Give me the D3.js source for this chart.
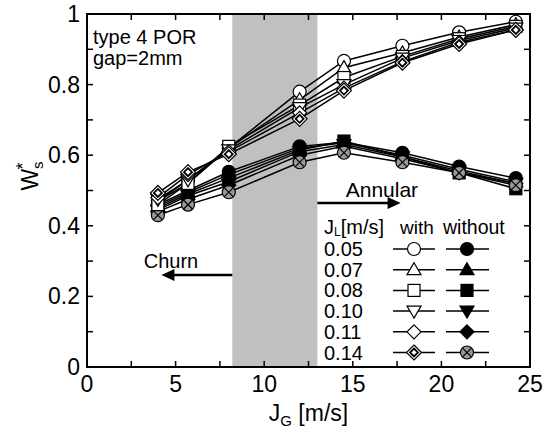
<!DOCTYPE html>
<html>
<head>
<meta charset="utf-8">
<script src="https://cdn.jsdelivr.net/npm/d3@7"></script>
<style>
  body { margin: 0; background: #fff; }
  svg text { font-family: "Liberation Sans", Arial, sans-serif; fill: #000; }
</style>
</head>
<body>
<svg id="chart" width="554" height="432"></svg>
<script>
// gas superficial velocity points [m/s]
var jg = [4, 5.7, 8, 12, 14.5, 17.8, 21, 24.2];
var jl = ["0.05", "0.07", "0.08", "0.10", "0.11", "0.14"];
var shapesWith = ["circle", "triangle", "square", "triangleDown", "diamond", "dotDiamond"];
var shapesWithout = ["circle", "triangle", "square", "triangleDown", "diamond", "crossCircle"];

var wsWith = [
  [0.470, 0.530, 0.620, 0.780, 0.867, 0.910, 0.948, 0.978],
  [0.470, 0.520, 0.620, 0.757, 0.848, 0.890, 0.935, 0.970],
  [0.460, 0.520, 0.625, 0.742, 0.820, 0.880, 0.930, 0.965],
  [0.475, 0.530, 0.615, 0.735, 0.800, 0.875, 0.925, 0.960],
  [0.480, 0.545, 0.610, 0.720, 0.790, 0.865, 0.920, 0.955],
  [0.493, 0.552, 0.603, 0.703, 0.783, 0.862, 0.915, 0.955]
];
var wsWithout = [
  [0.460, 0.500, 0.553, 0.625, 0.637, 0.607, 0.568, 0.535],
  [0.455, 0.495, 0.545, 0.620, 0.635, 0.600, 0.560, 0.525],
  [0.450, 0.490, 0.535, 0.615, 0.640, 0.595, 0.550, 0.505],
  [0.445, 0.485, 0.525, 0.610, 0.630, 0.595, 0.555, 0.520],
  [0.440, 0.475, 0.515, 0.600, 0.625, 0.590, 0.550, 0.520],
  [0.430, 0.460, 0.495, 0.580, 0.607, 0.580, 0.550, 0.515]
];
// churn-annular transition band
var band = [8.2, 13];
var xTicks = [0, 5, 10, 15, 20, 25];
var yTicks = [0, 0.2, 0.4, 0.6, 0.8, 1];

var margin = { left: 87, top: 14, right: 24, bottom: 65 };
var width = 554 - margin.left - margin.right;
var height = 432 - margin.top - margin.bottom;

var svg = d3.select("#chart");
var g = svg.append("g").attr("transform", "translate(" + margin.left + "," + margin.top + ")");

var x = d3.scaleLinear().domain([0, 25]).range([0, width]);
var y = d3.scaleLinear().domain([0, 1]).range([height, 0]);

// gray band
g.append("rect")
  .attr("x", x(band[0]))
  .attr("y", 0)
  .attr("width", x(band[1]) - x(band[0]))
  .attr("height", height)
  .attr("fill", "#c0c0c0");

// ticks (inward, on all four sides)
var xMinor = d3.range(0, 25.01, 2.5);
var yMinor = d3.range(0, 1.001, 0.1);
var tickLen = 6;
var ticks = g.append("g").attr("stroke", "#000").attr("stroke-width", 1.5);
xMinor.forEach(function(v) {
  ticks.append("line").attr("x1", x(v)).attr("x2", x(v)).attr("y1", height).attr("y2", height - tickLen);
  ticks.append("line").attr("x1", x(v)).attr("x2", x(v)).attr("y1", 0).attr("y2", tickLen);
});
yMinor.forEach(function(v) {
  ticks.append("line").attr("y1", y(v)).attr("y2", y(v)).attr("x1", 0).attr("x2", tickLen);
  ticks.append("line").attr("y1", y(v)).attr("y2", y(v)).attr("x1", width).attr("x2", width - tickLen);
});

// frame
g.append("rect")
  .attr("width", width)
  .attr("height", height)
  .attr("fill", "none")
  .attr("stroke", "#000")
  .attr("stroke-width", 2);

// tick labels
g.selectAll(".xl").data(xTicks).enter().append("text")
  .attr("x", function(d) { return x(d); })
  .attr("y", height + 25)
  .attr("text-anchor", "middle")
  .attr("font-size", 23)
  .text(function(d) { return d; });
g.selectAll(".yl").data(yTicks).enter().append("text")
  .attr("x", -7)
  .attr("y", function(d) { return y(d) + 8; })
  .attr("text-anchor", "end")
  .attr("font-size", 23)
  .text(function(d) { return d; });

// axis titles
var xt = svg.append("text")
  .attr("x", margin.left + x(12.5))
  .attr("y", 421)
  .attr("text-anchor", "middle")
  .attr("font-size", 23);
xt.append("tspan").text("J");
xt.append("tspan").attr("font-size", 15).attr("dy", 5).text("G");
xt.append("tspan").attr("dy", -5).text(" [m/s]");

var yt = svg.append("text")
  .attr("transform", "translate(38,176) rotate(-90)")
  .attr("text-anchor", "middle")
  .attr("font-size", 23);
yt.append("tspan").text("W");
yt.append("tspan").attr("font-size", 15).attr("dy", 5).text("s");
yt.append("tspan").attr("font-size", 18).attr("dy", -14).attr("dx", -8).text("*");

// marker drawing
function drawMarker(sel, shape, filled) {
  var fill = filled ? "#000" : "#fff";
  function apply(el) { return el.attr("stroke", "#000").attr("stroke-width", 1.2); }
  if (shape === "circle") {
    apply(sel.append("circle").attr("r", 6.5).attr("fill", fill));
  } else if (shape === "triangle") {
    apply(sel.append("path").attr("d", "M0,-7L7,5L-7,5Z").attr("fill", fill));
  } else if (shape === "triangleDown") {
    apply(sel.append("path").attr("d", "M0,7L7,-5L-7,-5Z").attr("fill", fill));
  } else if (shape === "square") {
    apply(sel.append("rect").attr("x", -6).attr("y", -6).attr("width", 12).attr("height", 12).attr("fill", fill));
  } else if (shape === "diamond") {
    apply(sel.append("path").attr("d", "M0,-7L7,0L0,7L-7,0Z").attr("fill", fill));
  } else if (shape === "dotDiamond") {
    apply(sel.append("path").attr("d", "M0,-7.5L7.5,0L0,7.5L-7.5,0Z").attr("fill", "#fff"));
    apply(sel.append("path").attr("d", "M0,-4L4,0L0,4L-4,0Z").attr("fill", "#fff")).attr("stroke-width", 1.8);
  } else if (shape === "crossCircle") {
    apply(sel.append("circle").attr("r", 6.5).attr("fill", "#999"));
    var k = 4.4;
    apply(sel.append("path").attr("d", "M" + -k + "," + -k + "L" + k + "," + k + "M" + -k + "," + k + "L" + k + "," + -k).attr("fill", "none"));
  }
}

var line = d3.line()
  .x(function(d, i) { return x(jg[i]); })
  .y(function(d) { return y(d); });

function drawSeries(data, shapes, filled) {
  data.forEach(function(vals) {
    g.append("path")
      .attr("d", line(vals))
      .attr("fill", "none")
      .attr("stroke", "#000")
      .attr("stroke-width", 1.5);
  });
  data.forEach(function(vals, s) {
    vals.forEach(function(v, i) {
      var m = g.append("g").attr("transform", "translate(" + x(jg[i]) + "," + y(v) + ")");
      drawMarker(m, shapes[s], filled);
    });
  });
}
drawSeries(wsWithout, shapesWithout, true);
drawSeries(wsWith, shapesWith, false);

// annotation text
g.append("text").attr("x", 6).attr("y", 30).attr("font-size", 20).text("type 4 POR");
g.append("text").attr("x", 6).attr("y", 51).attr("font-size", 20).text("gap=2mm");

// arrows
function arrow(x1, x2, yy) {
  var dir = x2 > x1 ? 1 : -1;
  g.append("line").attr("x1", x1).attr("x2", x2 - dir * 12).attr("y1", yy).attr("y2", yy)
    .attr("stroke", "#000").attr("stroke-width", 2.5);
  g.append("path")
    .attr("d", "M" + x2 + "," + yy + "L" + (x2 - dir * 13) + "," + (yy - 6) + "L" + (x2 - dir * 13) + "," + (yy + 6) + "Z")
    .attr("fill", "#000");
}
g.append("text").attr("x", x(3.2)).attr("y", 254).attr("font-size", 20).text("Churn");
arrow(x(band[0]), x(4.2), 261);
g.append("text").attr("x", x(14.6)).attr("y", 183).attr("font-size", 21).text("Annular");
arrow(x(band[1]), x(17.7), 189);

// legend
var lg = svg.append("g");
var lx = 324, ly = 234, rowH = 20.7;
var hd = lg.append("text").attr("x", lx).attr("y", ly).attr("font-size", 20);
hd.append("tspan").text("J");
hd.append("tspan").attr("font-size", 12).attr("dy", 2).text("L");
hd.append("tspan").attr("dy", -2).text("[m/s]");
lg.append("text").attr("x", 400).attr("y", ly).attr("font-size", 19).text("with");
lg.append("text").attr("x", 443).attr("y", ly).attr("font-size", 19.5).text("without");
jl.forEach(function(lbl, i) {
  var cy = 249 + i * rowH;
  lg.append("text").attr("x", lx).attr("y", cy + 7).attr("font-size", 20).text(lbl);
  [[393, 435, 414, shapesWith[i], false], [446, 489, 467, shapesWithout[i], true]].forEach(function(c) {
    lg.append("line").attr("x1", c[0]).attr("x2", c[1]).attr("y1", cy).attr("y2", cy)
      .attr("stroke", "#000").attr("stroke-width", 1.5);
    drawMarker(lg.append("g").attr("transform", "translate(" + c[2] + "," + cy + ")"), c[3], c[4]);
  });
});
</script>
</body>
</html>
